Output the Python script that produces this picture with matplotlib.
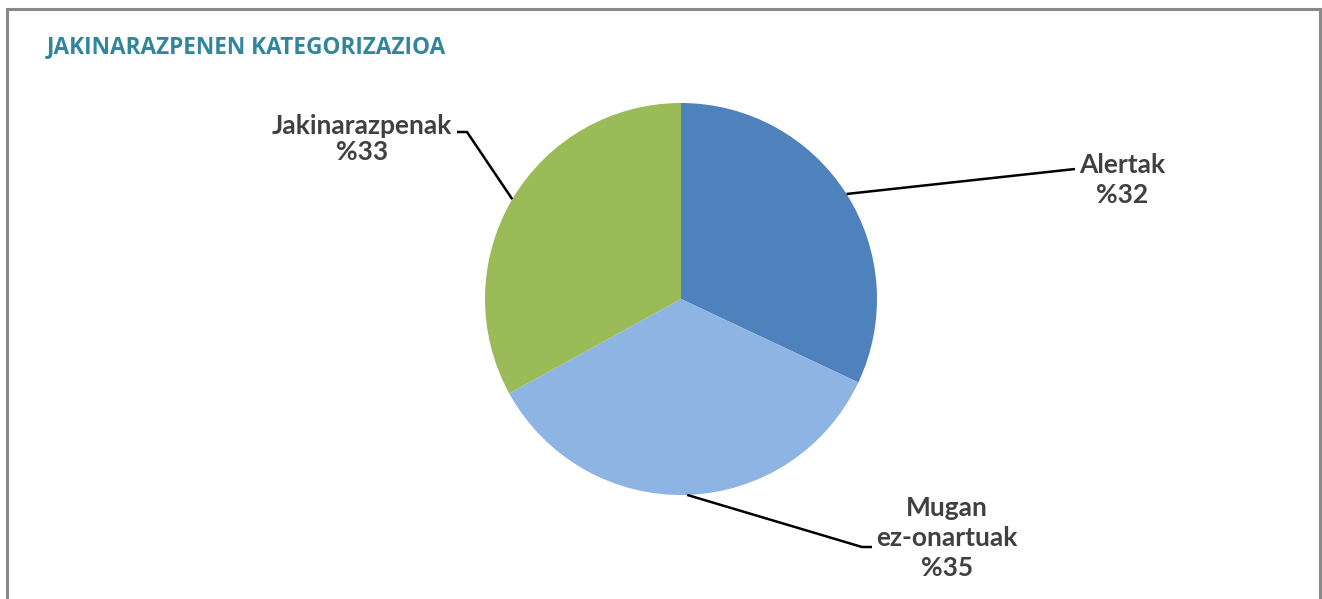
import numpy as np
import matplotlib
matplotlib.use("Agg")
import matplotlib.pyplot as plt

title = "JAKINARAZPENEN KATEGORIZAZIOA"
categories = ["Alertak", "Mugan\nez-onartuak", "Jakinarazpenak"]
values = [32, 35, 33]
colors = ["#4F81BD", "#8EB4E3", "#9BBB59"]

W, H = 1322, 599
fig = plt.figure(figsize=(W / 100, H / 100), dpi=100)
ax = fig.add_axes([0, 0, 1, 1])

def Y(py):
    return H - py

cx, cy, r = 681, Y(299), 196
ax.pie(values, colors=colors, startangle=90, counterclock=False,
       center=(cx, cy), radius=r, frame=True,
       wedgeprops=dict(linewidth=0))
ax.set_xlim(0, W)
ax.set_ylim(0, H)
ax.set_aspect("equal")
ax.axis("off")

# frame border (no bottom edge)
ax.plot([7, 7, 1320, 1320], [0, Y(9), Y(9), 0], color="#898989", lw=2.2,
        solid_joinstyle="miter", clip_on=False)

fig.text(47 / W, 1 - 47 / H, title, color="#31859C", fontsize=16.3,
         fontweight="bold", family="Open Sans", va="center", ha="left")

# label positions (text centre, leader elbow, leader end)
label_text_pos = [(1122, 180), (947, 538), (362, 139)]
elbows = [(1075, 169), (862, 547), (467, 132)]
ends = [(1075, 169), (872, 547), (457, 132)]

labels = [f"{c}\n%{v}" for c, v in zip(categories, values)]
total = sum(values)
start = 90.0
for i, v in enumerate(values):
    span = 360.0 * v / total
    mid = np.deg2rad(start - span / 2)
    start -= span
    px, py = cx + r * np.cos(mid), cy + r * np.sin(mid)
    ex, ey = elbows[i]
    fx, fy = ends[i]
    ax.plot([px, ex, fx], [py, Y(ey), Y(fy)], color="black", lw=1.8,
            solid_capstyle="butt")
    tx, ty = label_text_pos[i]
    ls = 1.32 if i < 2 else 1.1
    ax.text(tx, Y(ty), labels[i], ha="center", va="center", fontsize=19,
            fontweight="bold", color="#404040", family="Lato",
            linespacing=ls)

fig.savefig("out.png", dpi=100, facecolor="white")
